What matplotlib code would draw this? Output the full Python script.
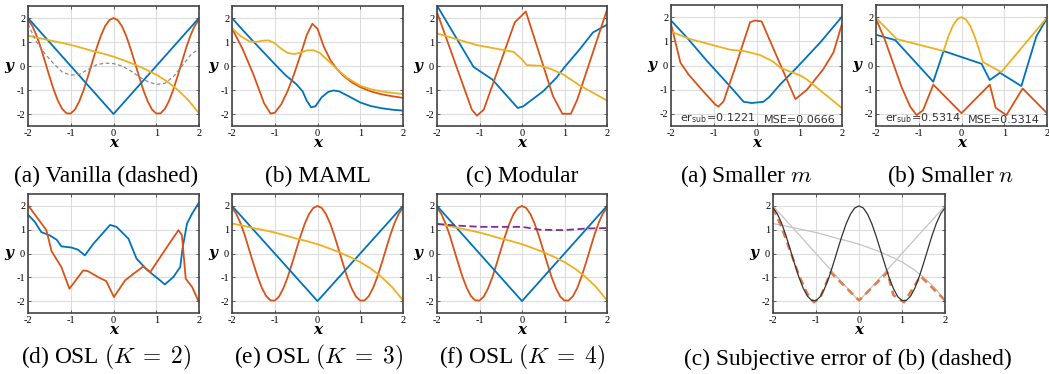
import numpy as np
import matplotlib
matplotlib.use("Agg")
import matplotlib.pyplot as plt

plt.rcParams['mathtext.fontset'] = 'cm'
plt.rcParams['axes.unicode_minus'] = False

BLUE = '#0072BD'
ORANGE = '#D95319'
YELLOW = '#EDB120'
PURPLE = '#7E2F8E'

# ground-truth curves (shared by several panels)
xs = np.linspace(-2, 2, 41)
cos_y = [1.92, 1.67, 1.27, 0.76, 0.17, -0.42, -0.98, -1.45, -1.79, -1.97, -1.98,
         -1.81, -1.47, -1.01, -0.45, 0.14, 0.72, 1.24, 1.65, 1.91, 2.0,
         1.91, 1.65, 1.24, 0.72, 0.14, -0.45, -1.01, -1.47, -1.81, -1.98,
         -1.97, -1.79, -1.45, -0.98, -0.42, 0.17, 0.76, 1.27, 1.67, 1.92]
v_x = [-2, 0, 2]
v_y = [2, -2, 2]
poly_x = [-2, -1.75, -1.5, -1.25, -1, -0.75, -0.5, -0.25, 0, 0.25, 0.5, 0.75, 1, 1.25, 1.5, 1.75, 2]
poly_y = [1.26, 1.17, 1.07, 0.98, 0.88, 0.76, 0.63, 0.52, 0.39, 0.23, 0.06, -0.14, -0.36, -0.64, -0.99, -1.42, -1.97]

# (a) vanilla
van_x = [-2, -1.8, -1.6, -1.4, -1.2, -1.0, -0.8, -0.6, -0.4, -0.2, 0, 0.2, 0.4, 0.6, 0.8, 1.0, 1.2, 1.4, 1.6, 1.8, 2.0]
van_y = [1.75, 1.0, 0.5, 0.1, -0.25, -0.38, -0.35, -0.15, 0.05, 0.12, 0.1, 0.0, -0.2, -0.45, -0.65, -0.77, -0.72, -0.45, 0.0, 0.45, 0.73]

# (b) MAML
maml_bx = [-2, -1.75, -1.5, -1.25, -1, -0.75, -0.5, -0.35, -0.25, -0.15, -0.05, 0.1, 0.25, 0.37, 0.5, 0.75, 1.0, 1.25, 1.5, 1.75, 2.0]
maml_by = [2.0, 1.5, 1.02, 0.55, 0.08, -0.38, -0.75, -1.05, -1.45, -1.72, -1.68, -1.3, -1.08, -1.02, -1.05, -1.28, -1.52, -1.67, -1.76, -1.82, -1.86]
maml_ox = [-2, -1.75, -1.5, -1.25, -1.1, -1.0, -0.85, -0.7, -0.55, -0.4, -0.25, -0.12, 0.0, 0.15, 0.3, 0.45, 0.6, 0.8, 1.0, 1.25, 1.5, 1.75, 2.0]
maml_oy = [1.57, 0.7, -0.35, -1.55, -1.98, -1.95, -1.6, -1.05, -0.35, 0.45, 1.3, 1.76, 1.55, 0.8, 0.25, -0.12, -0.4, -0.68, -0.88, -1.06, -1.18, -1.26, -1.33]
maml_yx = [-2, -1.8, -1.6, -1.45, -1.3, -1.15, -1.0, -0.85, -0.7, -0.55, -0.4, -0.25, -0.1, 0.05, 0.2, 0.35, 0.5, 0.7, 1.0, 1.25, 1.5, 1.75, 2.0]
maml_yy = [1.57, 1.25, 1.03, 1.0, 1.05, 1.07, 0.95, 0.72, 0.55, 0.5, 0.55, 0.65, 0.66, 0.55, 0.3, 0.05, -0.2, -0.5, -0.82, -0.97, -1.06, -1.12, -1.17]

# (c) modular
mod_bx = [-2, -1.14, -0.7, -0.1, 0.03, 0.5, 0.81, 1.0, 1.36, 1.67, 2.0]
mod_by = [2.52, -0.04, -0.56, -1.75, -1.68, -1.05, -0.49, -0.05, 0.7, 1.4, 1.72]
mod_ox = [-2, -1.18, -1.06, -0.9, -0.17, 0.09, 0.73, 0.95, 1.15, 1.3, 2.0]
mod_oy = [2.24, -1.82, -2.07, -1.82, 1.82, 2.27, -1.26, -1.99, -1.99, -1.4, 2.34]
mod_yx = [-2, -1.06, -0.2, 0.0, 0.11, 0.42, 0.66, 0.97, 1.36, 2.0]
mod_yy = [1.36, 0.87, 0.59, 0.28, 0.04, 0.01, -0.11, -0.35, -0.81, -1.44]

# smaller m
sm_bx = [-2, -1.63, -1.16, -0.69, -0.3, -0.11, 0.16, 0.3, 0.55, 0.94, 1.49, 2.0]
sm_by = [1.86, 1.16, 0.19, -0.72, -1.5, -1.55, -1.5, -1.3, -0.79, -0.09, 0.95, 2.02]
sm_ox = [-2, -1.78, -1.59, -1.28, -0.96, -0.89, -0.77, -0.5, -0.15, -0.03, 0.12, 0.4, 0.71, 0.91, 1.18, 1.56, 1.8, 2.0]
sm_oy = [1.72, 0.12, -0.37, -1.0, -1.62, -1.7, -1.48, -0.09, 1.79, 1.86, 1.82, 0.68, -0.58, -1.39, -1.0, -0.16, 0.54, 1.72]
sm_yx = [-2, -1.55, -0.61, -0.3, 0.09, 0.4, 0.55, 1.02, 1.18, 2.0]
sm_yy = [1.4, 1.09, 0.65, 0.6, 0.43, 0.15, -0.09, -0.41, -0.58, -1.76]

# smaller n
sn_yx = [-2, -1.51, -0.42, -0.3, -0.2, -0.1, 0, 0.1, 0.2, 0.3, 0.4, 0.5, 0.93, 2.0]
sn_yy = [1.96, 1.09, 0.6, 1.24, 1.65, 1.91, 2.0, 1.91, 1.65, 1.24, 0.72, 0.14, -0.27, 1.98]
sn_bx = [-2, -1.55, -0.66, -0.42, 0.47, 0.66, 0.9, 1.4, 1.75, 2.0]
sn_by = [1.27, 1.05, -0.67, 0.6, 0.07, -0.6, -0.3, -0.85, 1.2, 1.95]
sn_ox = [-2, -1.8, -1.6, -1.4, -1.2, -1.05, -0.9, -0.66, 0, 0.66, 0.8, 1.05, 1.43, 2.0]
sn_oy = [1.92, 1.1, 0.1, -0.9, -1.7, -2.05, -1.85, -0.79, -1.97, -0.79, -1.75, -2.05, -0.95, -1.97]

# (d) OSL K=2
k2_bx = [-2, -1.84, -1.69, -1.49, -1.33, -1.22, -0.98, -0.83, -0.67, -0.47, -0.08, 0.07, 0.35, 0.54, 0.78, 1.09, 1.2, 1.4, 1.56, 1.62, 1.72, 1.84, 2.0]
k2_by = [1.63, 1.33, 0.9, 0.76, 0.58, 0.3, 0.25, 0.16, -0.08, 0.41, 1.2, 1.12, 0.62, -0.22, -0.68, -1.13, -1.3, -0.99, -0.57, 0.27, 1.26, 1.68, 2.14]
k2_ox = [-2, -1.57, -1.45, -1.22, -1.03, -0.71, -0.6, -0.36, -0.17, 0.01, 0.27, 0.47, 0.7, 0.86, 1.25, 1.52, 1.6, 1.69, 1.84, 2.0]
k2_oy = [2.03, 0.98, 0.1, -0.57, -1.48, -0.71, -0.74, -0.99, -1.16, -1.83, -1.13, -0.85, -0.54, -0.78, 0.27, 0.98, 0.77, -1.06, -1.41, -2.05]

# (f) OSL K=4 extra curve
k4_px = [-2, -1.5, -0.98, -0.5, 0, 0.42, 0.97, 1.52, 2.0]
k4_py = [1.24, 1.17, 1.12, 1.12, 1.12, 1.0, 0.98, 1.05, 1.07]

W, H = 1049, 374
fig = plt.figure(figsize=(W / 100, H / 100), dpi=100)


def make_ax(x0, x1, y0, y1, caption, cx, cy):
    ax = fig.add_axes([x0 / W, 1 - y1 / H, (x1 - x0) / W, (y1 - y0) / H])
    ax.set_xlim(-2, 2)
    ax.set_ylim(-2.5, 2.5)
    ax.set_xticks([-2, -1, 0, 1, 2])
    ax.set_yticks([-2, -1, 0, 1, 2])
    ax.set_xticklabels(['-2', '-1', '0', '1', '2'], family='Liberation Serif', fontsize=7.5)
    ax.set_yticklabels(['-2', '-1', '0', '1', '2'], family='Liberation Serif', fontsize=7.5)
    ax.tick_params(direction='in', length=2.5, width=0.6, color='#444444',
                   top=True, right=True, pad=2)
    ax.grid(True, color='#dcdcdc', lw=0.8)
    ax.set_axisbelow(True)
    for s in ax.spines.values():
        s.set_color('#444444')
        s.set_linewidth(1.2)
    ax.set_xlabel('x', family='DejaVu Serif', weight='bold', style='italic',
                  fontsize=11, labelpad=-1)
    ax.set_ylabel('y', family='DejaVu Serif', weight='bold', style='italic',
                  fontsize=11, rotation=0, labelpad=6, va='center')
    fig.text(cx / W, 1 - cy / H, caption, family='Liberation Serif',
             fontsize=16.8, ha='center', va='center')
    return ax


LW = 1.3

ax = make_ax(28, 199, 6, 126, '(a) Vanilla (dashed)', 106, 176)
ax.plot(xs, cos_y, color=ORANGE, lw=LW)
ax.plot(v_x, v_y, color=BLUE, lw=LW)
ax.plot(poly_x, poly_y, color=YELLOW, lw=LW)
ax.plot(van_x, van_y, color='#8c8c8c', lw=0.9, ls='--', dashes=(3, 2))

ax = make_ax(232, 403, 6, 126, '(b) MAML', 318, 176)
ax.plot(maml_bx, maml_by, color=BLUE, lw=LW)
ax.plot(maml_ox, maml_oy, color=ORANGE, lw=LW)
ax.plot(maml_yx, maml_yy, color=YELLOW, lw=LW)

ax = make_ax(437, 607, 6, 126, '(c) Modular', 522, 176)
ax.plot(mod_bx, mod_by, color=BLUE, lw=LW)
ax.plot(mod_ox, mod_oy, color=ORANGE, lw=LW)
ax.plot(mod_yx, mod_yy, color=YELLOW, lw=LW)

ax = make_ax(671, 842, 5, 126, '(a) Smaller $m$', 746, 176)
ax.plot(sm_bx, sm_by, color=BLUE, lw=LW)
ax.plot(sm_ox, sm_oy, color=ORANGE, lw=LW)
ax.plot(sm_yx, sm_yy, color=YELLOW, lw=LW)
ax.text(0.05, 0.01, r'er$_{\mathregular{sub}}$=0.1221', transform=ax.transAxes,
        family='DejaVu Sans', fontsize=8, color='#333333', va='bottom')
ax.text(0.96, 0.01, 'MSE=0.0666', transform=ax.transAxes,
        family='DejaVu Sans', fontsize=8, color='#333333', va='bottom', ha='right')

ax = make_ax(876, 1047, 5, 126, '(b) Smaller $n$', 951, 176)
ax.plot(sn_bx, sn_by, color=BLUE, lw=LW)
ax.plot(sn_ox, sn_oy, color=ORANGE, lw=LW)
ax.plot(sn_yx, sn_yy, color=YELLOW, lw=LW)
ax.text(0.05, 0.01, r'er$_{\mathregular{sub}}$=0.5314', transform=ax.transAxes,
        family='DejaVu Sans', fontsize=8, color='#333333', va='bottom')
ax.text(0.96, 0.01, 'MSE=0.5314', transform=ax.transAxes,
        family='DejaVu Sans', fontsize=8, color='#333333', va='bottom', ha='right')

ax = make_ax(28, 199, 194, 313, r'(d) OSL $(K\;=\;2)$', 106, 357)
ax.plot(k2_bx, k2_by, color=BLUE, lw=LW)
ax.plot(k2_ox, k2_oy, color=ORANGE, lw=LW)

ax = make_ax(232, 403, 194, 313, r'(e) OSL $(K\;=\;3)$', 318, 357)
ax.plot(xs, cos_y, color=ORANGE, lw=LW)
ax.plot(v_x, v_y, color=BLUE, lw=LW)
ax.plot(poly_x, poly_y, color=YELLOW, lw=LW)

ax = make_ax(437, 607, 194, 313, r'(f) OSL $(K\;=\;4)$', 522, 357)
ax.plot(xs, cos_y, color=ORANGE, lw=LW)
ax.plot(v_x, v_y, color=BLUE, lw=LW)
ax.plot(poly_x, poly_y, color=YELLOW, lw=LW)
ax.plot(k4_px, k4_py, color=PURPLE, lw=LW, ls='--', dashes=(4, 2))

ax = make_ax(773, 945, 194, 313, '(c) Subjective error of (b) (dashed)', 848, 359)
ax.plot(v_x, v_y, color='#c4c4c4', lw=0.9)
ax.plot(poly_x, poly_y, color='#c4c4c4', lw=0.9)
ax.plot(sn_ox, sn_oy, color='#e27a4a', lw=1.8, ls='--', dashes=(3, 2))
ax.plot(xs, cos_y, color='#333333', lw=0.9)

fig.savefig('out.png', dpi=100)
